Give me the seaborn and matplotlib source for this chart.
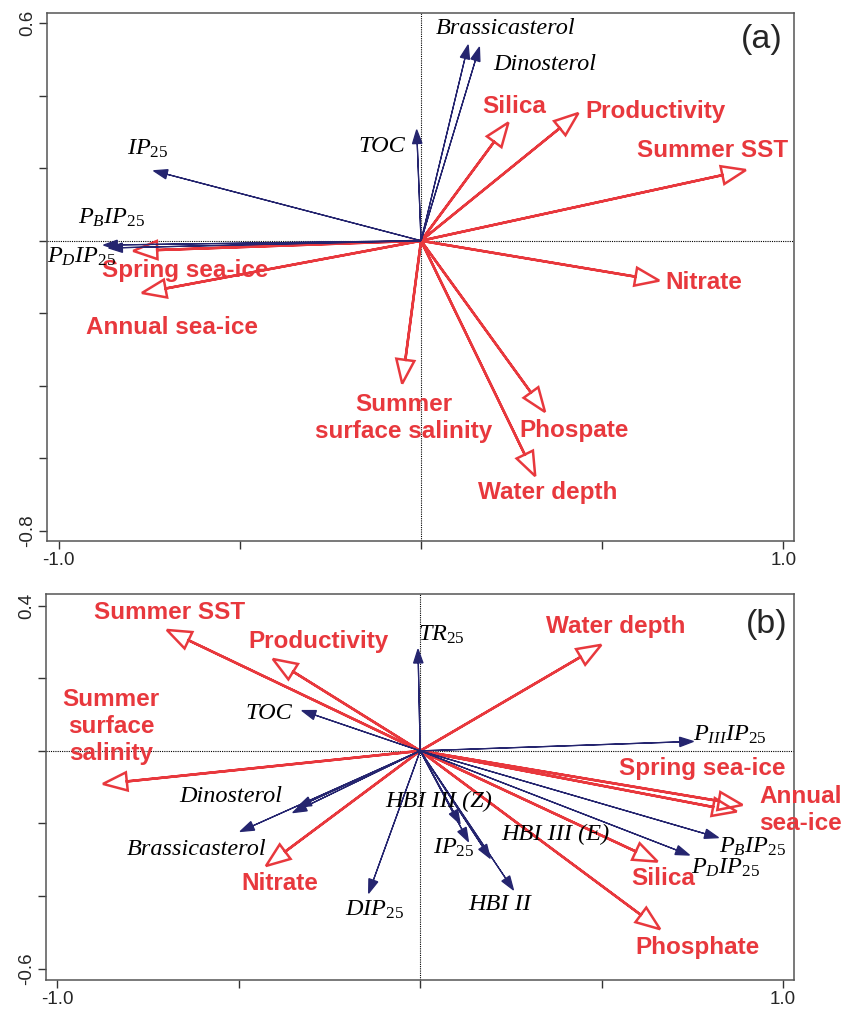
import matplotlib
matplotlib.use("Agg")
import matplotlib.pyplot as plt
import seaborn as sns

sns.set_style("ticks")
plt.rcParams['font.family'] = ['Liberation Sans', 'DejaVu Sans']
plt.rcParams['mathtext.fontset'] = 'custom'
plt.rcParams['mathtext.it'] = 'Liberation Serif:italic'
plt.rcParams['mathtext.rm'] = 'Liberation Serif'
plt.rcParams['mathtext.default'] = 'it'

RED = '#e8383d'
BLUE = '#25256f'

# ---- panel (a) ----
a_env = ['Silica', 'Productivity', 'Summer SST', 'Nitrate', 'Spring sea-ice',
         'Annual sea-ice', 'Summer\nsurface salinity', 'Phospate', 'Water depth']
a_env_x = [0.241, 0.434, 0.896, 0.657, -0.794, -0.770, -0.052, 0.342, 0.315]
a_env_y = [0.326, 0.352, 0.195, -0.110, -0.028, -0.144, -0.394, -0.472, -0.649]
a_env_lx = [0.257, 0.646, 0.803, 0.780, -0.651, -0.687, -0.047, 0.422, 0.350]
a_env_ly = [0.369, 0.356, 0.250, -0.114, -0.081, -0.238, -0.490, -0.523, -0.694]

a_sp = ['Brassicasterol', 'Dinosterol', 'TOC', r'$IP_{25}$',
        r'$P_{B}IP_{25}$', r'$P_{D}IP_{25}$']
a_sp_x = [0.130, 0.161, -0.012, -0.738, -0.876, -0.862]
a_sp_y = [0.540, 0.534, 0.306, 0.193, -0.012, -0.020]
a_sp_lx = [0.234, 0.342, -0.108, -0.753, -0.855, -0.938]
a_sp_ly = [0.585, 0.485, 0.259, 0.253, 0.063, -0.045]

# ---- panel (b) ----
b_env = ['Summer SST', 'Productivity', 'Summer\nsurface\nsalinity', 'Nitrate',
         'Water depth', 'Spring sea-ice', 'Annual\nsea-ice', 'Silica', 'Phosphate']
b_env_x = [-0.698, -0.406, -0.874, -0.425, 0.499, 0.888, 0.872, 0.654, 0.661]
b_env_y = [0.333, 0.253, -0.091, -0.317, 0.292, -0.149, -0.167, -0.305, -0.491]
b_env_lx = [-0.691, -0.279, -0.851, -0.388, 0.540, 0.777, 1.047, 0.670, 0.763]
b_env_ly = [0.381, 0.301, 0.066, -0.366, 0.342, -0.048, -0.163, -0.351, -0.541]

b_sp = [r'$TR_{25}$', 'TOC', 'Dinosterol', '', 'Brassicasterol', r'$DIP_{25}$',
        'HBI III (Z)', r'$IP_{25}$', 'HBI III (E)', 'HBI II',
        r'$P_{III}IP_{25}$', r'$P_{B}IP_{25}$', r'$P_{D}IP_{25}$']
b_sp_x = [-0.006, -0.326, -0.338, -0.351, -0.496, -0.142, 0.110, 0.133, 0.193,
          0.257, 0.753, 0.822, 0.742]
b_sp_y = [0.280, 0.111, -0.155, -0.170, -0.222, -0.392, -0.201, -0.250, -0.296,
          -0.383, 0.026, -0.239, -0.287]
b_sp_lx = [0.058, -0.416, -0.523, 0.0, -0.615, -0.125, 0.052, 0.091, 0.372,
           0.220, 0.854, 0.917, 0.842]
b_sp_ly = [0.320, 0.102, -0.126, 0.0, -0.271, -0.438, -0.138, -0.268, -0.231,
           -0.424, 0.044, -0.265, -0.323]


def biplot(ax, env, ex, ey, elx, ely, sp, sx, sy, slx, sly, xlim, ylim, yt, tag, tagpos):
    ax.set_xlim(xlim)
    ax.set_ylim(ylim)
    ax.axhline(0, color='k', lw=0.8, ls=(0, (1, 1)), zorder=1)
    ax.axvline(0, color='k', lw=0.8, ls=(0, (1, 1)), zorder=1)
    # environmental arrows (open heads)
    for x, y in zip(ex, ey):
        ax.arrow(0, 0, x, y, width=0, head_width=0.05, head_length=0.066,
                 length_includes_head=True, fc='none', ec=RED, lw=1.8,
                 joinstyle='miter', zorder=2)
    # species arrows (filled heads)
    for x, y in zip(sx, sy):
        ax.arrow(0, 0, x, y, width=0, head_width=0.026, head_length=0.038,
                 length_includes_head=True, fc=BLUE, ec=BLUE, lw=0.9, zorder=3)
    for t, x, y in zip(env, elx, ely):
        ax.text(x, y, t, color=RED, fontsize=17.5, fontweight='bold', ha='center',
                va='center', multialignment='center', linespacing=1.22, zorder=4)
    for t, x, y in zip(sp, slx, sly):
        if t:
            ax.text(x, y, t, color='black', fontsize=17.5, family='Liberation Serif',
                    style='italic', ha='center', va='center', zorder=4)
    ax.text(tagpos[0], tagpos[1], tag, transform=ax.transAxes, fontsize=24.5,
            ha='center', va='center')
    ax.set_xticks([-1.0, -0.5, 0.0, 0.5, 1.0])
    ax.set_xticklabels(['-1.0', '', '', '', '1.0'], fontsize=13.5)
    ax.set_yticks(yt)
    ylab = [''] * len(yt)
    ylab[0] = f'{yt[0]:.1f}'
    ylab[-1] = f'{yt[-1]:.1f}'
    ax.set_yticklabels(ylab, fontsize=13.5, rotation=90, va='center')
    ax.tick_params(length=6, width=1, color='#333333', pad=2)
    for s in ax.spines.values():
        s.set_color('#555555')
        s.set_linewidth(1.1)


fig = plt.figure(figsize=(8.5, 10.11), dpi=100)
ax1 = fig.add_axes([47 / 850, 470 / 1011, 747 / 850, 528 / 1011])
ax2 = fig.add_axes([46 / 850, 31 / 1011, 748 / 850, 386 / 1011])

biplot(ax1, a_env, a_env_x, a_env_y, a_env_lx, a_env_ly,
       a_sp, a_sp_x, a_sp_y, a_sp_lx, a_sp_ly,
       (-1.032, 1.029), (-0.828, 0.628),
       [-0.8, -0.6, -0.4, -0.2, 0.0, 0.2, 0.4, 0.6], '(a)', (0.957, 0.949))
biplot(ax2, b_env, b_env_x, b_env_y, b_env_lx, b_env_ly,
       b_sp, b_sp_x, b_sp_y, b_sp_lx, b_sp_ly,
       (-1.031, 1.030), (-0.631, 0.432),
       [-0.6, -0.4, -0.2, 0.0, 0.2, 0.4], '(b)', (0.964, 0.92))

fig.savefig('out.png', dpi=100)
